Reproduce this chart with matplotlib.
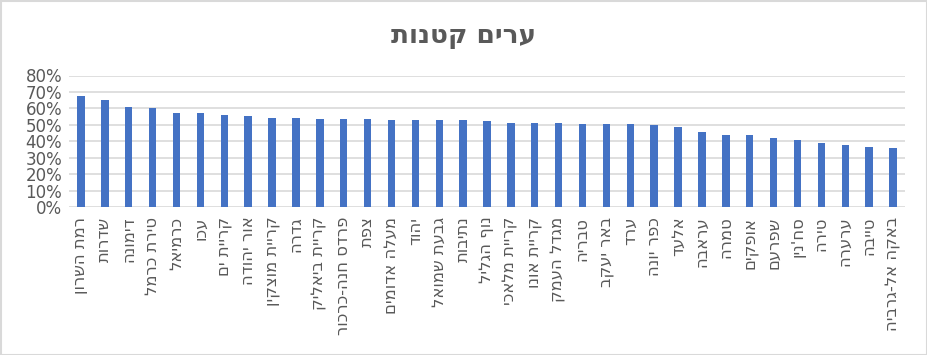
import matplotlib
matplotlib.use("Agg")
import matplotlib.pyplot as plt
from matplotlib.patches import Rectangle
from matplotlib.ticker import PercentFormatter

plt.rcParams['font.family'] = ['DejaVu Sans']

title = "ערים קטנות"
cities = ["רמת השרון", "שדרות", "דימונה", "טירת כרמל", "כרמיאל", "עכו",
          "קריית ים", "אור יהודה", "קריית מוצקין", "גדרה", "קריית ביאליק",
          "פרדס חנה-כרכור", "צפת", "מעלה אדומים", "יהוד", "גבעת שמואל",
          "נתיבות", "נוף הגליל", "קריית מלאכי", "קריית אונו", "מגדל העמק",
          "טבריה", "באר יעקב", "ערד", "כפר יונה", "אלעד", "עראבה", "טמרה",
          "אופקים", "שפרעם", "סח'נין", "טירה", "ערערה", "טייבה",
          "באקה אל-גרביה"]
values = [67.5, 65.2, 60.9, 60.3, 57.3, 57.3, 56.0, 55.4, 54.2, 54.2, 53.5,
          53.4, 53.3, 52.7, 52.7, 52.7, 52.7, 52.1, 51.4, 50.9, 50.9, 50.3,
          50.3, 50.2, 49.6, 48.4, 45.9, 44.1, 43.5, 41.7, 41.0, 39.2, 37.9,
          36.2, 36.1]
yticks = [0, 10, 20, 30, 40, 50, 60, 70, 80]

text_color = "#595959"
grid_color = "#D9D9D9"

fig = plt.figure(figsize=(9.28, 3.55), dpi=100)
ax = fig.add_axes([69/928, 1 - 207/355, (905 - 69)/928, (207 - 75.5)/355])

x = list(range(len(cities)))
ax.bar(x, values, width=0.31, color="#4472C4", zorder=3)

ax.set_xlim(-0.5, len(cities) - 0.5)
ax.set_ylim(0, 80)
ax.set_yticks(yticks)
ax.yaxis.set_major_formatter(PercentFormatter(decimals=0))
ax.grid(axis="y", color=grid_color, linewidth=1.2, zorder=0)
for s in ax.spines.values():
    s.set_visible(False)
ax.tick_params(axis="both", length=0, colors=text_color)
ax.tick_params(axis="y", labelsize=12, pad=5)

# matplotlib draws no bidi: reverse the strings so they read right-to-left
ax.set_xticks(x)
ax.set_xticklabels([c[::-1] for c in cities], rotation=90, fontsize=11.8,
                   va="top", ha="center")
ax.tick_params(axis="x", pad=7)

fig.text(0.5, 1 - 36/355, title[::-1], ha="center", va="center",
         fontsize=19, fontweight="bold", color=text_color)

fig.patches.append(Rectangle((0.5/928, 0.5/355), 1 - 1/928, 1 - 1/355,
                             transform=fig.transFigure, fill=False,
                             edgecolor=grid_color, linewidth=1.5))

fig.savefig("out.png", dpi=100)
